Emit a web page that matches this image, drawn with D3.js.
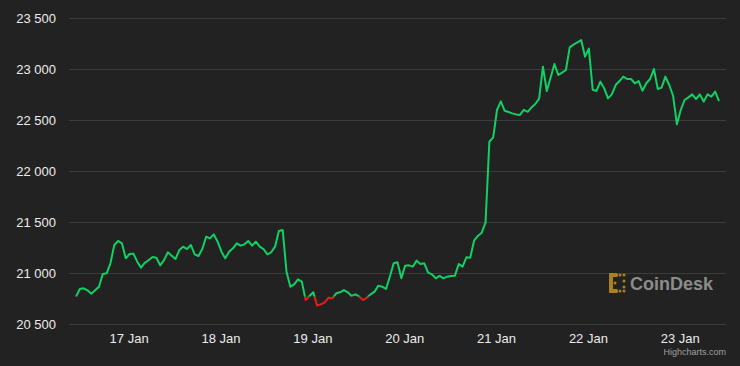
<!DOCTYPE html>
<html>
<head>
<meta charset="utf-8">
<script src="https://cdn.jsdelivr.net/npm/d3@7"></script>
<style>
  body { margin: 0; background: #222222; }
  svg { display: block; }
</style>
</head>
<body>
<div id="vis1"></div>
<script>
// frame constants
const FRAME_HEIGHT = 366;
const FRAME_WIDTH = 740;
const MARGINS = {left: 69, right: 14, top: 18, bottom: 42};

// data: hourly BTC price, first point 16 Jan ~10:15
const START_TIME = new Date(2023, 0, 16, 10, 15);
const prices = [
  20768, 20843, 20850, 20830, 20797, 20830, 20866, 20990, 20997, 21095,
  21275, 21314, 21291, 21144, 21186, 21190, 21111, 21053, 21101, 21127,
  21157, 21150, 21075, 21127, 21203, 21170, 21137, 21225, 21258, 21235,
  21275, 21183, 21167, 21235, 21356, 21340, 21379, 21307, 21209, 21144,
  21209, 21242, 21291, 21268, 21281, 21314, 21268, 21307, 21258, 21235,
  21183, 21203, 21258, 21412, 21422, 21013, 20866, 20889, 20938, 20915,
  20735, 20775, 20811, 20680, 20693, 20713, 20758, 20752, 20801, 20811,
  20833, 20811, 20775, 20791, 20768, 20735, 20758, 20791, 20817, 20876,
  20866, 20843, 20964, 21095, 21105, 20948, 21072, 21075, 21062, 21121,
  21088, 21095, 21003, 20987, 20948, 20971, 20948, 20964, 20971, 20974,
  21088, 21062, 21154, 21150, 21317, 21363, 21395, 21493, 22287, 22330,
  22598, 22683, 22590, 22578, 22565, 22555, 22550, 22600, 22580, 22622,
  22657, 22709, 23023, 22784, 22915, 23049, 22941, 22965, 22990, 23212,
  23240, 23262, 23284, 23121, 23200, 22797, 22785, 22876, 22810, 22712,
  22751, 22843, 22882, 22925, 22902, 22902, 22860, 22882, 22787, 22860,
  22902, 23000, 22804, 22817, 22925, 22843, 22738, 22458, 22598, 22696,
  22722, 22751, 22706, 22751, 22680, 22751, 22729, 22778, 22686
];
const yTicks = [20500, 21000, 21500, 22000, 22500, 23000, 23500];
const THRESHOLD = prices[0];

const GREEN = "#12d163";
const RED = "#ea1a1a";

const FRAME = d3.select("#vis1").append("svg")
  .attr("width", FRAME_WIDTH)
  .attr("height", FRAME_HEIGHT);

FRAME.append("rect")
  .attr("width", FRAME_WIDTH)
  .attr("height", FRAME_HEIGHT)
  .attr("fill", "#222222");

// scales
const lastTime = d3.timeHour.offset(START_TIME, prices.length - 1);
const X_SCALE = d3.scaleTime()
  .domain([new Date(+START_TIME - 1.83 * 3600e3), new Date(+lastTime + 1.83 * 3600e3)])
  .range([MARGINS.left, FRAME_WIDTH - MARGINS.right]);

const Y_SCALE = d3.scaleLinear()
  .domain([20500, 23500])
  .range([FRAME_HEIGHT - MARGINS.bottom, MARGINS.top]);

const fmt = d3.format(",");
const label = (d) => fmt(d).replace(/,/g, " ");

// grid lines + y labels
const yAxis = FRAME.append("g")
  .attr("transform", "translate(" + MARGINS.left + ",0)")
  .call(d3.axisLeft(Y_SCALE).tickValues(yTicks).tickFormat(label)
    .tickSize(-(FRAME_WIDTH - MARGINS.left - MARGINS.right)).tickPadding(13));
yAxis.select(".domain").remove();
yAxis.selectAll("line").attr("stroke", "#3c3c3c").attr("stroke-width", 1);
yAxis.selectAll("text")
  .attr("fill", "#ececec")
  .attr("font-size", "13px")
  .attr("font-family", "Liberation Sans, Arial, sans-serif")
  .attr("dy", "0.36em");

// x labels
const xAxis = FRAME.append("g")
  .attr("transform", "translate(0," + (FRAME_HEIGHT - MARGINS.bottom) + ")")
  .call(d3.axisBottom(X_SCALE).ticks(d3.timeDay.every(1))
    .tickFormat(d3.timeFormat("%-d %b")).tickSize(0).tickPadding(10));
xAxis.select(".domain").remove();
xAxis.selectAll("text")
  .attr("fill", "#ececec")
  .attr("font-size", "13px")
  .attr("font-family", "Liberation Sans, Arial, sans-serif");

// logo
const logo = FRAME.append("g").attr("fill", "#a9821e");
logo.append("rect").attr("x", 609).attr("y", 273).attr("width", 4).attr("height", 20).attr("rx", 1.5);
logo.append("rect").attr("x", 609).attr("y", 273).attr("width", 9).attr("height", 4).attr("rx", 1.5);
logo.append("rect").attr("x", 609).attr("y", 289).attr("width", 9).attr("height", 4).attr("rx", 1.5);
[[620, 275], [624, 275], [624, 281], [615, 283], [624, 287], [620, 291], [624, 291]].forEach((p) => {
  logo.append("circle").attr("cx", p[0]).attr("cy", p[1]).attr("r", 1.5);
});
FRAME.append("text")
  .attr("x", 630).attr("y", 290)
  .attr("fill", "#8c8c8c")
  .attr("font-size", "18px")
  .attr("font-weight", "bold")
  .attr("font-family", "Liberation Sans, Arial, sans-serif")
  .text("CoinDesk");

// line, split at the first price: green above, red below
const thrY = Y_SCALE(THRESHOLD);
const defs = FRAME.append("defs");
defs.append("clipPath").attr("id", "above")
  .append("rect").attr("x", 0).attr("y", 0).attr("width", FRAME_WIDTH).attr("height", thrY);
defs.append("clipPath").attr("id", "below")
  .append("rect").attr("x", 0).attr("y", thrY).attr("width", FRAME_WIDTH).attr("height", FRAME_HEIGHT - thrY);

const line = d3.line()
  .x((d, i) => X_SCALE(d3.timeHour.offset(START_TIME, i)))
  .y((d) => Y_SCALE(d));

FRAME.append("path").datum(prices)
  .attr("d", line).attr("fill", "none")
  .attr("stroke", GREEN).attr("stroke-width", 2)
  .attr("stroke-linejoin", "round")
  .attr("clip-path", "url(#above)");
FRAME.append("path").datum(prices)
  .attr("d", line).attr("fill", "none")
  .attr("stroke", RED).attr("stroke-width", 2)
  .attr("stroke-linejoin", "round")
  .attr("clip-path", "url(#below)");

// credits
FRAME.append("text")
  .attr("x", 726).attr("y", 355)
  .attr("text-anchor", "end")
  .attr("fill", "#a0a0a0")
  .attr("font-size", "9px")
  .attr("font-family", "Liberation Sans, Arial, sans-serif")
  .text("Highcharts.com");
</script>
</body>
</html>
